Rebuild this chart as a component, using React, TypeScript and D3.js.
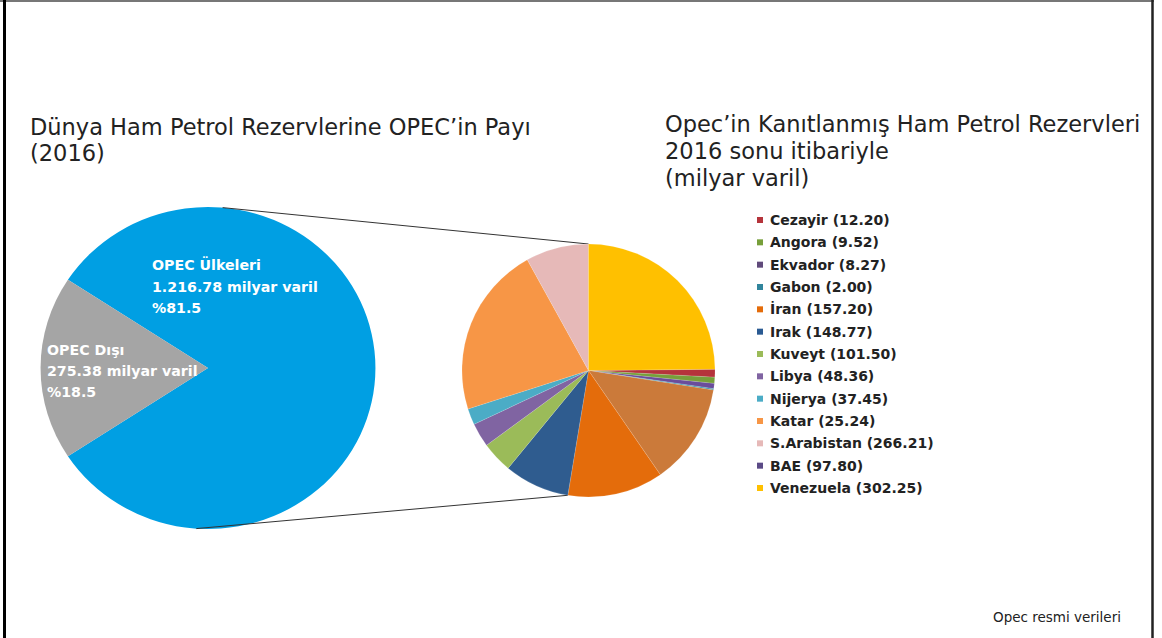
import React from "react";
import * as d3 from "d3";

// ---- Data ----
const worldLabels = ["OPEC Ülkeleri", "OPEC Dışı"];
const worldValues = [1216.78, 275.38];
const worldValueLabels = ["1.216.78", "275.38"];
const worldPercents = ["%81.5", "%18.5"];
const worldColors = ["#009FE3", "#A5A5A5"];

const countries = [
  "Cezayir", "Angora", "Ekvador", "Gabon", "İran", "Irak", "Kuveyt",
  "Libya", "Nijerya", "Katar", "S.Arabistan", "BAE", "Venezuela",
];
const reserves = [12.2, 9.52, 8.27, 2.0, 157.2, 148.77, 101.5, 48.36, 37.45, 25.24, 266.21, 97.8, 302.25];
const reserveLabels = ["12.20", "9.52", "8.27", "2.00", "157.20", "148.77", "101.50", "48.36", "37.45", "25.24", "266.21", "97.80", "302.25"];
const sliceColors = [
  "#B5343B", "#779F3A", "#6A4D9B", "#3597AE", "#CB7A3A", "#E46C0B", "#2F5C8F",
  "#9BBB59", "#8064A2", "#4BACC6", "#F79646", "#E6B9B8", "#FFC000",
];
const legendColors = [
  "#B5343B", "#779F3A", "#604A7B", "#31859C", "#E46C0A", "#2A5A92", "#9BBB59",
  "#8064A2", "#4BACC6", "#F79646", "#E6B9B8", "#5B4A86", "#FFC000",
];

const FONT = "'DejaVu Sans', Verdana, sans-serif";

export default function App() {
  const W = 1162, H = 638;

  // left pie (slightly wider than tall, as in the reference)
  const lcx = 208, lcy = 368, lr = 161, lsx = 1.04;
  const wTotal = d3.sum(worldValues);
  const otherAngle = (worldValues[1] / wTotal) * 2 * Math.PI;
  const leftPie = d3.pie<number>().sort(null)
    .startAngle(-Math.PI / 2 + otherAngle / 2)
    .endAngle(-Math.PI / 2 + otherAngle / 2 + 2 * Math.PI);
  const leftArcs = leftPie(worldValues);
  const leftArc = d3.arc<d3.PieArcDatum<number>>().innerRadius(0).outerRadius(lr);

  // right pie
  const rcx = 588.5, rcy = 370.5, rr = 126.5;
  const rTotal = d3.sum(reserves);
  const vAngle = (reserves[reserves.length - 1] / rTotal) * 2 * Math.PI;
  const rightPie = d3.pie<number>().sort(null).startAngle(vAngle).endAngle(vAngle + 2 * Math.PI);
  const rightArcs = rightPie(reserves);
  const rightArc = d3.arc<d3.PieArcDatum<number>>().innerRadius(0).outerRadius(rr);

  // connector lines
  const pt = (cx: number, cy: number, r: number, a: number, sx = 1) => [cx + sx * r * Math.sin(a), cy - r * Math.cos(a)];
  const t1 = pt(lcx, lcy, lr, (5 * Math.PI) / 180, lsx);
  const t2 = pt(rcx, rcy, rr, 0);
  const b1 = pt(lcx, lcy, lr, (184 * Math.PI) / 180, lsx);
  const b2 = pt(rcx, rcy, rr, rightArcs[5].endAngle);

  const legendY = d3.scaleLinear().domain([0, countries.length - 1]).range([220, 488]);

  return (
    <svg width={W} height={H} style={{ position: "absolute", left: 0, top: 0, background: "#fff" }}
      fontFamily={FONT}>
      <rect x={0} y={0} width={W} height={H} fill="#fff" />
      {/* frame */}
      <line x1={0} y1={1} x2={1154} y2={1} stroke="#777" strokeWidth={2} />
      <line x1={4.5} y1={0} x2={4.5} y2={H} stroke="#000" strokeWidth={3} />
      <line x1={1152.5} y1={0} x2={1152.5} y2={H} stroke="#222" strokeWidth={2.5} />

      {/* titles */}
      <g fontSize={22.5} fill="#222">
        <text x={30} y={135}>Dünya Ham Petrol Rezervlerine OPEC’in Payı</text>
        <text x={30} y={161}>(2016)</text>
        <text x={665} y={132}>Opec’in Kanıtlanmış Ham Petrol Rezervleri</text>
        <text x={665} y={159}>2016 sonu itibariyle</text>
        <text x={665} y={186}>(milyar varil)</text>
      </g>

      {/* left pie */}
      <g transform={`translate(${lcx},${lcy}) scale(${lsx},1)`}>
        {leftArcs.map((a, i) => (
          <path key={i} d={leftArc(a) || ""} fill={worldColors[i]} />
        ))}
      </g>
      <g fill="#fff" fontWeight="bold" fontSize={14.2}>
        <text x={152} y={270}>{worldLabels[0]}</text>
        <text x={152} y={292}>{`${worldValueLabels[0]} milyar varil`}</text>
        <text x={152} y={313}>{worldPercents[0]}</text>
        <text x={47} y={355}>{worldLabels[1]}</text>
        <text x={47} y={376}>{`${worldValueLabels[1]} milyar varil`}</text>
        <text x={47} y={397}>{worldPercents[1]}</text>
      </g>

      {/* connectors */}
      <line x1={t1[0]} y1={t1[1]} x2={t2[0]} y2={t2[1]} stroke="#333" strokeWidth={1} />
      <line x1={b1[0]} y1={b1[1]} x2={b2[0]} y2={b2[1]} stroke="#333" strokeWidth={1} />

      {/* right pie */}
      <g transform={`translate(${rcx},${rcy})`}>
        {rightArcs.map((a, i) => (
          <path key={i} d={rightArc(a) || ""} fill={sliceColors[i]} stroke="#fff" strokeOpacity={0.25} strokeWidth={0.5} />
        ))}
      </g>

      {/* legend */}
      <g fontWeight="bold" fontSize={14} fill="#222">
        {countries.map((c, i) => (
          <g key={c} transform={`translate(0,${legendY(i)})`}>
            <rect x={757} y={-3} width={6} height={6} fill={legendColors[i]} />
            <text x={770} y={5}>{`${c} (${reserveLabels[i]})`}</text>
          </g>
        ))}
      </g>

      {/* source */}
      <text x={993} y={622} fontSize={13.5} fill="#222">Opec resmi verileri</text>
    </svg>
  );
}
